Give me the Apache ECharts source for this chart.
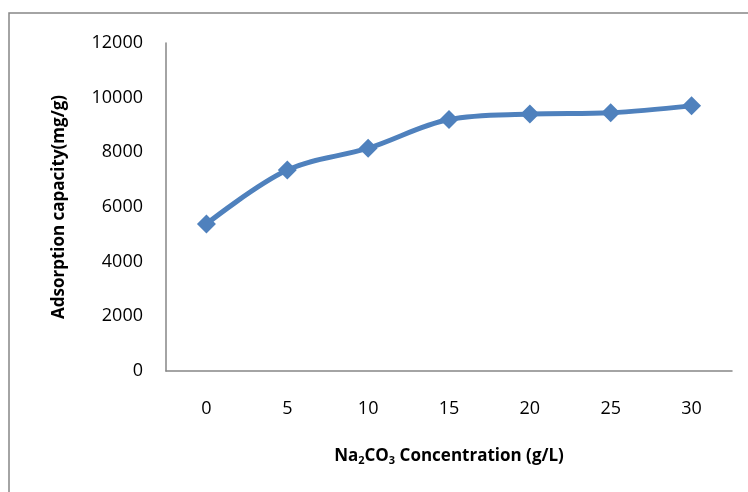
<!DOCTYPE html>
<html>
<head>
<meta charset="utf-8">
<script src="https://cdn.jsdelivr.net/npm/echarts@6/dist/echarts.min.js"></script>
<style>
  html, body { margin: 0; padding: 0; background: #fff; }
  #chart { width: 748px; height: 492px; }
</style>
</head>
<body>
<div id="chart"></div>
<script>
// Na2CO3 concentration (g/L) and adsorption capacity (mg/g)
const concentrations = ['0', '5', '10', '15', '20', '25', '30'];
const capacity = [5380, 7350, 8150, 9200, 9400, 9450, 9700];
const yTicks = { min: 0, max: 12000, interval: 2000 };

const FONT = '"Open Sans", "Noto Sans", sans-serif';
const AXIS_GREY = '#868686';
const LINE_BLUE = '#4F81BD';

const chart = echarts.init(document.getElementById('chart'), null, { renderer: 'canvas' });

chart.setOption({
  backgroundColor: '#ffffff',
  animation: false,
  textStyle: { fontFamily: FONT, color: '#000' },
  graphic: [{
    type: 'rect',
    shape: { x: 9, y: 13, width: 800, height: 600 },
    style: { fill: 'none', stroke: AXIS_GREY, lineWidth: 1.5 },
    silent: true
  }],
  grid: { left: 166, right: 16, top: 43, bottom: 121 },
  xAxis: {
    type: 'category',
    data: concentrations,
    boundaryGap: true,
    axisLine: { lineStyle: { color: AXIS_GREY, width: 1.5 } },
    axisTick: { show: false },
    axisLabel: { margin: 29, fontSize: 18, color: '#000', fontFamily: FONT },
    name: '{a|Na}{s|2}{a|CO}{s|3}{a| Concentration (g/L)}',
    nameLocation: 'middle',
    nameGap: 76,
    nameTextStyle: {
      rich: {
        a: { fontSize: 17, fontWeight: 'bold', fontFamily: FONT, color: '#000' },
        s: { fontSize: 11, fontWeight: 'bold', fontFamily: FONT, color: '#000', verticalAlign: 'bottom', padding: [8, 0, 0, 0] }
      }
    }
  },
  yAxis: {
    type: 'value',
    min: yTicks.min,
    max: yTicks.max,
    interval: yTicks.interval,
    axisLine: { show: true, lineStyle: { color: AXIS_GREY, width: 1.5 } },
    axisTick: { show: false },
    splitLine: { show: false },
    axisLabel: { margin: 23, fontSize: 18, color: '#000', fontFamily: FONT, formatter: v => String(v) },
    name: 'Adsorption capacity(mg/g)',
    nameLocation: 'middle',
    nameGap: 98,
    nameTextStyle: { fontSize: 17, fontWeight: 'bold', fontFamily: FONT, color: '#000' }
  },
  series: [{
    type: 'line',
    data: capacity,
    smooth: 0.35,
    symbol: 'diamond',
    symbolSize: 19,
    lineStyle: { color: LINE_BLUE, width: 5 },
    itemStyle: { color: LINE_BLUE }
  }]
});
</script>
</body>
</html>
